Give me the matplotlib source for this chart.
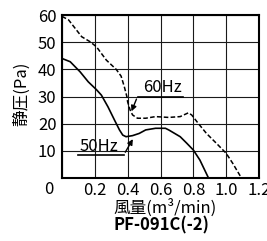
import matplotlib
matplotlib.use("Agg")
import matplotlib.pyplot as plt

plt.rcParams['font.family'] = ['Noto Sans CJK JP', 'DejaVu Sans']

# 60Hz curve (dashed)
q60 = [0, 0.04, 0.08, 0.12, 0.17, 0.21, 0.27, 0.33, 0.36, 0.38, 0.395, 0.40, 0.415, 0.43, 0.46, 0.51, 0.57, 0.65, 0.72, 0.77, 0.79, 0.83, 0.88, 0.94, 1.0, 1.04, 1.09]
p60 = [59.5, 58.2, 55.1, 52, 50.2, 48.3, 43.4, 40, 37.5, 33.5, 30, 28, 25, 23.2, 22, 22, 22.6, 22.3, 22.6, 24, 23.2, 20.1, 16.4, 12.8, 9.1, 5.4, 0.3]

# 50Hz curve (solid)
q50 = [0, 0.05, 0.11, 0.16, 0.21, 0.24, 0.28, 0.32, 0.35, 0.37, 0.39, 0.43, 0.47, 0.51, 0.57, 0.63, 0.65, 0.72, 0.76, 0.80, 0.84, 0.89]
p50 = [44, 42.8, 39.1, 35.4, 32.5, 30.5, 26.2, 21.3, 17.7, 15.8, 15.2, 15.6, 16.4, 17.7, 18.3, 18.3, 17.7, 15.2, 12.8, 10.3, 6.6, 0.3]

xticks = [0, 0.2, 0.4, 0.6, 0.8, 1.0, 1.2]
xticklabels = ['', '0.2', '0.4', '0.6', '0.8', '1.0', '1.2']
yticks = [0, 10, 20, 30, 40, 50, 60]
yticklabels = ['', '10', '20', '30', '40', '50', '60']

W, H = 267, 241
fig = plt.figure(figsize=(W/100, H/100), dpi=100)
ax = fig.add_axes([62/W, 1-178/H, (259-62)/W, (178-15)/H])

ax.plot(q60, p60, color='black', lw=1.1, linestyle=(0, (3, 1.5)), clip_on=True)
ax.plot(q50, p50, color='black', lw=1.2)

ax.set_xlim(0, 1.2)
ax.set_ylim(0, 60)
ax.set_xticks(xticks)
ax.set_xticklabels(xticklabels)
ax.set_yticks(yticks)
ax.set_yticklabels(yticklabels)
ax.tick_params(length=0, labelsize=12, pad=4)
ax.tick_params(axis='x', pad=3)
ax.grid(True, color='#1a1a1a', lw=0.8)
for s in ax.spines.values():
    s.set_linewidth(1.5)
    s.set_color('black')

# annotations
ax.text(0.61, 33.3, '60Hz', fontsize=12, ha='center', va='center')
ax.plot([0.74, 0.46], [30, 30], color='black', lw=1.2)
ax.annotate('', xy=(0.417, 23.6), xytext=(0.46, 30),
            arrowprops=dict(arrowstyle='-|>', color='black', lw=1.0, mutation_scale=8))
ax.text(0.224, 11.5, '50Hz', fontsize=12, ha='center', va='center')
ax.plot([0.10, 0.377], [8.6, 8.6], color='black', lw=1.2)
ax.annotate('', xy=(0.44, 15.2), xytext=(0.377, 8.6),
            arrowprops=dict(arrowstyle='-|>', color='black', lw=1.0, mutation_scale=8))

fig.text(49/W, 1-190/H, '0', fontsize=12, ha='center', va='center')
fig.text(22/W, 1-93.5/H, '静圧(Pa)', fontsize=12, rotation=90, ha='center', va='center')
fig.text(165/W, 1-208/H, '風量(m³/min)', fontsize=12, ha='center', va='center')
fig.text(161/W, 1-225/H, 'PF-091C(-2)', fontsize=12, fontweight='bold', ha='center', va='center')

fig.savefig('out.png', dpi=100)
